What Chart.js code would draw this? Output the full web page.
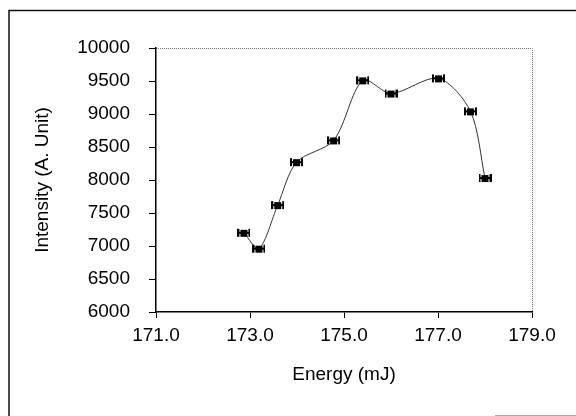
<!DOCTYPE html>
<html>
<head>
<meta charset="utf-8">
<script src="https://cdn.jsdelivr.net/npm/chart.js@4/dist/chart.umd.min.js"></script>
<style>
  html, body { margin: 0; padding: 0; background: #fff; }
  #wrap { width: 576px; height: 416px; position: relative; }
</style>
</head>
<body>
<div id="wrap"><canvas id="c" width="576" height="416"></canvas></div>
<script>
// Data
const energy    = [172.87, 173.19, 173.59, 173.99, 174.78, 175.40, 176.00, 177.01, 177.69, 178.00];
const intensity = [7200, 6960, 7620, 8270, 8600, 9510, 9310, 9540, 9040, 8030];
const xTicks = [171, 173, 175, 177, 179];
const yTicks = [6000, 6500, 7000, 7500, 8000, 8500, 9000, 9500, 10000];
const xTitle = 'Energy (mJ)';
const yTitle = 'Intensity (A. Unit)';

// Marker: small square with horizontal error-bar caps ("H" look)
function makeMarker() {
  const c = document.createElement('canvas');
  c.width = 13; c.height = 10;
  const g = c.getContext('2d');
  g.fillStyle = '#000';
  g.fillRect(0, 1, 2, 8);     // left cap
  g.fillRect(11, 1, 2, 8);    // right cap
  g.fillRect(0, 4, 13, 2);    // bar
  g.fillRect(3, 2, 7, 7);     // square
  return c;
}

const frame = {
  id: 'frame',
  beforeDraw(chart) {
    const ctx = chart.ctx;
    ctx.save();
    ctx.fillStyle = '#fff';
    ctx.fillRect(0, 0, chart.width, chart.height);
    ctx.strokeStyle = '#111';
    ctx.lineWidth = 1.5;
    ctx.beginPath();
    ctx.moveTo(9, 416);
    ctx.lineTo(9, 10.5);
    ctx.lineTo(576, 10.5);
    ctx.stroke();
    ctx.strokeStyle = '#aaa';
    ctx.lineWidth = 1;
    ctx.beginPath();
    ctx.moveTo(495, 415.5);
    ctx.lineTo(576, 415.5);
    ctx.stroke();
    const a = chart.chartArea;
    ctx.strokeStyle = '#777';
    ctx.setLineDash([1, 1]);
    ctx.beginPath();
    ctx.moveTo(a.left, a.top + 0.5);
    ctx.lineTo(a.right + 0.5, a.top + 0.5);
    ctx.lineTo(a.right + 0.5, a.bottom);
    ctx.stroke();
    ctx.restore();
  }
};

const font = { family: '"Liberation Sans", Arial, sans-serif', size: 19 };

new Chart(document.getElementById('c'), {
  type: 'scatter',
  data: {
    datasets: [{
      data: energy.map((x, i) => ({ x: x, y: intensity[i] })),
      showLine: true,
      tension: 0.3,
      borderColor: '#333',
      borderWidth: 1,
      pointStyle: makeMarker(),
      pointRadius: 6,
      pointHoverRadius: 6
    }]
  },
  options: {
    responsive: false,
    animation: false,
    events: [],
    layout: { padding: { left: 10, right: 44, top: 48, bottom: 24 } },
    plugins: { legend: { display: false }, tooltip: { enabled: false } },
    scales: {
      x: {
        type: 'linear',
        min: 171, max: 179,
        afterBuildTicks: s => { s.ticks = xTicks.map(v => ({ value: v })); },
        afterFit: s => { s.height = 80; },
        ticks: { color: '#000', font: font, padding: 6, maxRotation: 0,
                 callback: v => Number(v).toFixed(1) },
        grid: { display: true, drawOnChartArea: false, drawTicks: true, tickLength: 6, color: '#000' },
        border: { display: true, color: '#000', width: 1.5 },
        title: { display: true, text: xTitle, color: '#000', font: font, padding: { top: 2, bottom: 6 } }
      },
      y: {
        type: 'linear',
        min: 6000, max: 10000,
        afterBuildTicks: s => { s.ticks = yTicks.map(v => ({ value: v })); },
        afterFit: s => { s.width = 146; },
        ticks: { color: '#000', font: font, padding: 19, callback: v => String(v) },
        grid: { display: true, drawOnChartArea: false, drawTicks: true, tickLength: 7, color: '#000' },
        border: { display: true, color: '#000', width: 1.5 },
        title: { display: true, text: yTitle, color: '#000', font: font, padding: { top: 21, bottom: 0 } }
      }
    }
  },
  plugins: [frame]
});
</script>
</body>
</html>
